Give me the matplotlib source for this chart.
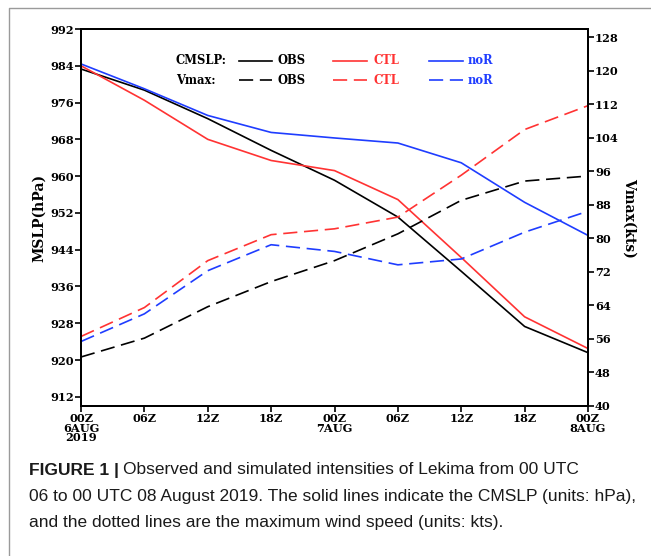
import matplotlib
matplotlib.use("Agg")
import matplotlib.pyplot as plt
from matplotlib.lines import Line2D

# ---- data ----
hours = [0, 6, 12, 18, 24, 30, 36, 42, 48]
xtick_labels = ["00Z\n6AUG\n2019", "06Z", "12Z", "18Z", "00Z\n7AUG",
                "06Z", "12Z", "18Z", "00Z\n8AUG"]
mslp_obs = [983.3, 978.7, 972.5, 965.6, 959.1, 951.1, 939.3, 927.3, 921.6]
mslp_ctl = [984.0, 976.5, 968.0, 963.4, 961.2, 954.9, 942.3, 929.4, 922.5]
mslp_nor = [984.4, 979.0, 973.2, 969.5, 968.3, 967.2, 962.9, 954.3, 947.1]
vmax_obs = [51.7, 56.2, 63.7, 69.7, 74.7, 81.1, 89.1, 93.7, 94.9]
vmax_ctl = [56.6, 63.5, 74.7, 80.9, 82.3, 85.1, 95.1, 106.0, 111.7]
vmax_nor = [55.4, 62.0, 72.3, 78.5, 76.9, 73.7, 75.1, 81.5, 86.5]
left_ticks = [912, 920, 928, 936, 944, 952, 960, 968, 976, 984, 992]
right_ticks = [40, 48, 56, 64, 72, 80, 88, 96, 104, 112, 120, 128]

RED = "#ff3333"
BLUE = "#1f3dff"
BLK = "#000000"
DASH = (0, (8.5, 4))

fig = plt.figure(figsize=(6.51, 5.56), dpi=100)
W, H = 651, 556

def fx(px):
    return px / W

def fy(py):
    return 1 - py / H

# outer frame (left and top edges visible)
fig.add_artist(Line2D([fx(9), fx(9), fx(651)], [fy(556), fy(8), fy(8)],
                      transform=fig.transFigure, color="#9a9a9a", lw=1.0))

ax = fig.add_axes([fx(81), fy(406), fx(588) - fx(81), fy(29) - fy(406)])
ax2 = ax.twinx()

tickfont = dict(family="DejaVu Serif", weight="bold", size=8.2)

lw = 1.2
ax.plot(hours, mslp_obs, color=BLK, lw=lw)
ax.plot(hours, mslp_ctl, color=RED, lw=lw)
ax.plot(hours, mslp_nor, color=BLUE, lw=lw)
ax2.plot(hours, vmax_obs, color=BLK, lw=lw, linestyle=DASH)
ax2.plot(hours, vmax_ctl, color=RED, lw=lw, linestyle=DASH)
ax2.plot(hours, vmax_nor, color=BLUE, lw=lw, linestyle=DASH)

ax.set_xlim(0, 48)
ax.set_ylim(910, 992)
ax2.set_ylim(40, 130)
ax.set_xticks(hours)
ax.set_xticklabels(xtick_labels, fontdict=tickfont, linespacing=0.85)
ax.set_yticks(left_ticks)
ax.set_yticklabels([str(t) for t in left_ticks], fontdict=tickfont)
ax2.set_yticks(right_ticks)
ax2.set_yticklabels([str(t) for t in right_ticks], fontdict=tickfont)

for a in (ax, ax2):
    for s in a.spines.values():
        s.set_linewidth(1.4)
ax.tick_params(axis="both", direction="out", length=4, width=1.2, pad=1.0)
ax2.tick_params(axis="y", direction="out", length=4, width=1.2, pad=1.0)

labfont = dict(family="DejaVu Serif", weight="bold", size=10)
ax.set_ylabel("MSLP(hPa)", fontdict=labfont, labelpad=3)
ax2.set_ylabel("Vmax(kts)", fontdict=labfont, rotation=-90, labelpad=13)

# legend (manual layout)
legfont = dict(family="DejaVu Serif", weight="bold", size=8.3)
rows = [(61, "CMSLP:", "-"), (80, "Vmax:", DASH)]
entries = [(239, 272, 277, "OBS", BLK), (333, 367, 373, "CTL", RED), (429, 463, 468, "noR", BLUE)]
for y, label, ls in rows:
    fig.text(fx(176), fy(y), label, ha="left", va="center", **legfont)
    for x0, x1, xt, name, c in entries:
        fig.add_artist(Line2D([fx(x0), fx(x1)], [fy(y), fy(y)], transform=fig.transFigure,
                              color=c, lw=lw, linestyle=ls))
        fig.text(fx(xt), fy(y), name, ha="left", va="center", color=c, **legfont)

# caption
capfam = ["Liberation Sans Narrow", "Liberation Sans", "DejaVu Sans"]
cap_size = 12.5
capcol = "#1a1a1a"
t = fig.text(fx(29), fy(470), "FIGURE 1 |", ha="left", va="center", family=capfam,
             weight="bold", size=cap_size, color=capcol)
fig.canvas.draw()
bb = t.get_window_extent()
fig.text(bb.x1 / W + fx(4), fy(470),
         "Observed and simulated intensities of Lekima from 00 UTC",
         ha="left", va="center", family=capfam, size=cap_size, color=capcol)
fig.text(fx(29), fy(497),
         "06 to 00 UTC 08 August 2019. The solid lines indicate the CMSLP (units: hPa),",
         ha="left", va="center", family=capfam, size=cap_size, color=capcol)
fig.text(fx(29), fy(523),
         "and the dotted lines are the maximum wind speed (units: kts).",
         ha="left", va="center", family=capfam, size=cap_size, color=capcol)

fig.savefig("out.png", dpi=100)
